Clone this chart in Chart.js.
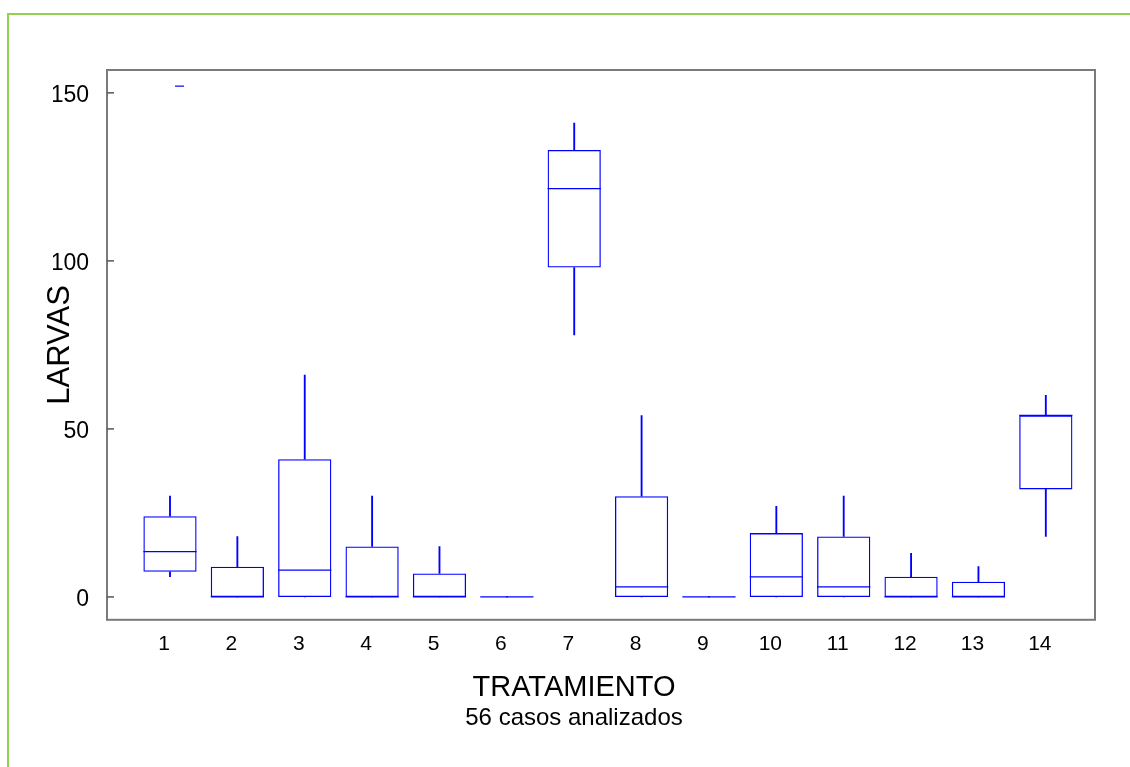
<!DOCTYPE html>
<html>
<head>
<meta charset="utf-8">
<script src="https://cdn.jsdelivr.net/npm/chart.js@4.4.1/dist/chart.umd.min.js"></script>
<style>
html, body { margin: 0; padding: 0; background: #fff; overflow: hidden; }
#frame { position: absolute; left: 7px; top: 13px; width: 2000px; height: 2000px;
  border-left: 2px solid #92d050; border-top: 2px solid #92d050; }
#wrap { position: absolute; left: 0; top: 0; width: 1130px; height: 767px; }
</style>
</head>
<body>
<div id="frame"></div>
<div id="wrap"><canvas id="boxChart" width="1130" height="767"></canvas></div>
<script>
// values (LARVAS per TRATAMIENTO)
const treatments = [1, 2, 3, 4, 5, 6, 7, 8, 9, 10, 11, 12, 13, 14];
const mins    = [6,    0, 0,  0,  0, 0, 78,    0,  0, 0,  0,  0, 0,   18];
const q1s     = [7.5,  0, 0,  0,  0, 0, 98,    0,  0, 0,  0,  0, 0,   32];
const medians = [13.5, 0, 8,  0,  0, 0, 121.5, 3,  0, 6,  3,  0, 0,   54];
const q3s     = [24,   9, 41, 15, 7, 0, 133,   30, 0, 19, 18, 6, 4.5, 54];
const maxs    = [30,  18, 66, 30, 15, 0, 141,  54, 0, 27, 30, 13, 9,  60];
const outlierTreatments = [1];
const outlierValues = [152];
const yTicks = [0, 50, 100, 150];

const BLUE = '#0000ff';

Chart.defaults.font.family = '"Liberation Sans", Arial, sans-serif';
Chart.defaults.color = '#000';

function pairs(lo, hi) {
    let arr = [];
    for (let i = 0; i < treatments.length; i++) {
        arr.push({x: treatments[i], y: [lo[i], hi[i]]});
    }
    return arr;
}

const boxExtras = {
    id: 'boxExtras',
    afterDatasetsDraw(chart) {
        const {ctx, chartArea, scales} = chart;
        const x = scales.x, y = scales.y;
        const boxes = chart.getDatasetMeta(0).data;
        ctx.save();
        // medians
        ctx.strokeStyle = BLUE;
        ctx.lineWidth = 1.2;
        boxes.forEach((bar, i) => {
            const half = bar.width / 2;
            const py = y.getPixelForValue(medians[i]);
            ctx.beginPath();
            ctx.moveTo(bar.x - half, py);
            ctx.lineTo(bar.x + half, py);
            ctx.stroke();
        });
        // outside values, drawn as a short dash right of the box centre
        outlierTreatments.forEach((t, i) => {
            const px = x.getPixelForValue(t) + 9.5;
            const py = y.getPixelForValue(outlierValues[i]);
            ctx.beginPath();
            ctx.moveTo(px - 4.5, py);
            ctx.lineTo(px + 4.5, py);
            ctx.stroke();
        });
        // plot frame
        ctx.strokeStyle = '#7a7a7a';
        ctx.lineWidth = 2;
        ctx.strokeRect(chartArea.left, chartArea.top, chartArea.right - chartArea.left, chartArea.bottom - chartArea.top);
        // inward y tick marks
        ctx.strokeStyle = '#555';
        ctx.lineWidth = 1.5;
        y.ticks.forEach(t => {
            const py = y.getPixelForValue(t.value);
            ctx.beginPath();
            ctx.moveTo(chartArea.left, py);
            ctx.lineTo(chartArea.left + 7, py);
            ctx.stroke();
        });
        ctx.restore();
    }
};

new Chart(document.getElementById('boxChart'), {
    type: 'bar',
    data: {
        datasets: [{
            label: 'caja',
            data: pairs(q1s, q3s),
            backgroundColor: 'rgba(0,0,0,0)',
            borderColor: BLUE,
            borderWidth: 1.3,
            borderSkipped: false,
            grouped: false,
            categoryPercentage: 1,
            barPercentage: 0.79
        }, {
            label: 'bigote superior',
            data: pairs(q3s, maxs),
            backgroundColor: BLUE,
            borderWidth: 0,
            grouped: false,
            barThickness: 1.2
        }, {
            label: 'bigote inferior',
            data: pairs(mins, q1s),
            backgroundColor: BLUE,
            borderWidth: 0,
            grouped: false,
            barThickness: 1.2
        }]
    },
    options: {
        responsive: false,
        animation: false,
        layout: {
            padding: {left: 53, right: 35, top: 70, bottom: 34}
        },
        plugins: {
            legend: {display: false},
            tooltip: {enabled: false},
            subtitle: {
                display: true,
                position: 'bottom',
                text: 'TRATAMIENTO',
                color: '#000',
                font: {size: 29, weight: 'normal', lineHeight: 1.1},
                padding: 0
            },
            title: {
                display: true,
                position: 'bottom',
                text: '56 casos analizados',
                color: '#000',
                font: {size: 24, weight: 'normal', lineHeight: 1.2},
                padding: 0
            }
        },
        scales: {
            x: {
                type: 'linear',
                offset: false,
                min: 0.065,
                max: 14.73,
                grid: {display: false, drawTicks: false},
                border: {display: false},
                ticks: {
                    font: {size: 21},
                    padding: 12,
                    labelOffset: -6,
                    autoSkip: false,
                    maxRotation: 0
                },
                afterBuildTicks: (axis) => {
                    axis.ticks = treatments.map(v => ({value: v}));
                },
                afterFit: (axis) => {
                    axis.height = 52.5;
                }
            },
            y: {
                type: 'linear',
                min: -6.8,
                max: 156.8,
                grid: {display: false, drawTicks: false},
                border: {display: false},
                ticks: {
                    font: {size: 23},
                    padding: 18,
                    labelOffset: 3
                },
                afterBuildTicks: (axis) => {
                    axis.ticks = yTicks.map(v => ({value: v}));
                },
                afterFit: (axis) => {
                    axis.width = 54;
                },
                title: {
                    display: true,
                    text: 'LARVAS',
                    color: '#000',
                    font: {size: 31, lineHeight: 1},
                    padding: {top: -8, bottom: 0}
                }
            }
        }
    },
    plugins: [boxExtras]
});
</script>
</body>
</html>
